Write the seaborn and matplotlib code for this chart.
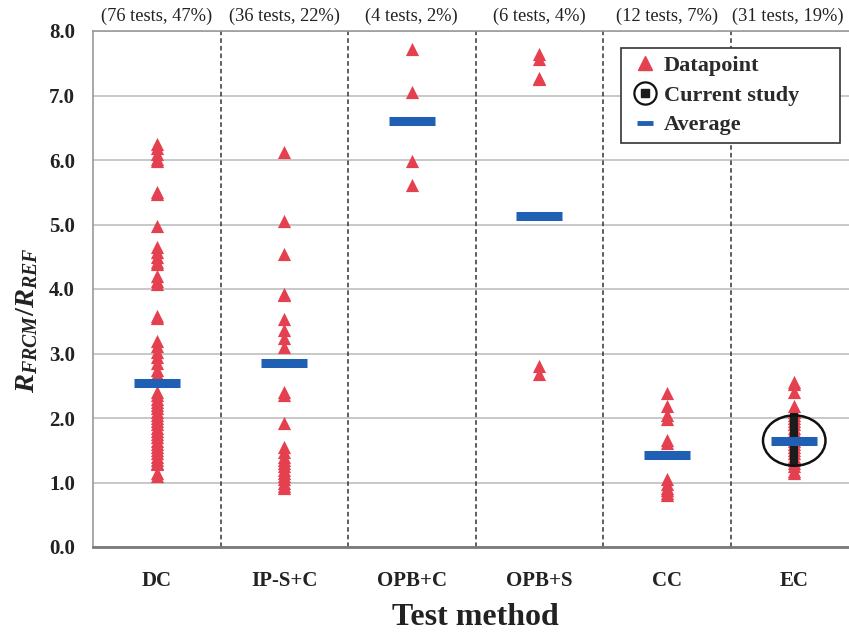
import numpy as np
import pandas as pd
import matplotlib
matplotlib.use("Agg")
import matplotlib.pyplot as plt
import seaborn as sns
from matplotlib.patches import Ellipse
from matplotlib.lines import Line2D
from matplotlib.legend_handler import HandlerTuple

# ---------------- data ----------------
methods = ["DC", "IP-S+C", "OPB+C", "OPB+S", "CC", "EC"]
test_labels = ["(76 tests, 47%)", "(36 tests, 22%)", "(4 tests, 2%)",
               "(6 tests, 4%)", "(12 tests, 7%)", "(31 tests, 19%)"]

dc_values = [6.25, 6.18, 6.10, 6.02, 5.98, 5.50, 5.47, 4.98,
             4.65, 4.58, 4.50, 4.42, 4.38, 4.20, 4.12, 4.08,
             3.58, 3.55, 3.20, 3.12, 3.02, 2.95, 2.85, 2.75, 2.68, 2.60,
             2.40, 2.35, 2.30, 2.25, 2.20, 2.15, 2.10, 2.05, 2.00, 1.95,
             1.90, 1.85, 1.80, 1.75, 1.70, 1.65, 1.60, 1.55, 1.50, 1.45,
             1.40, 1.35, 1.30, 1.28, 1.15, 1.10]
ips_values = [6.12, 5.06, 4.55, 3.93, 3.90, 3.54, 3.36, 3.24, 3.10,
              2.40, 2.35, 1.92, 1.55, 1.48, 1.40, 1.35, 1.30, 1.25, 1.20,
              1.15, 1.10, 1.05, 1.00, 0.95, 0.91]
opbc_values = [7.72, 7.05, 5.98, 5.62]
opbs_values = [7.64, 7.56, 7.27, 7.25, 2.80, 2.68]
cc_values = [2.38, 2.18, 2.05, 1.98, 1.66, 1.62, 1.05, 0.98, 0.92, 0.88, 0.84, 0.80]
ec_values = [2.56, 2.52, 2.40, 2.18, 2.10, 2.05, 2.00, 1.95, 1.90, 1.85,
             1.80, 1.75, 1.70, 1.65, 1.60, 1.55, 1.50, 1.45, 1.40, 1.35,
             1.30, 1.25, 1.18, 1.15]
current_study = [2.02, 1.94, 1.86, 1.78, 1.72, 1.55, 1.47, 1.40, 1.33]

averages = [2.54, 2.86, 6.61, 5.13, 1.43, 1.65]

# ---------------- tables ----------------
groups = [dc_values, ips_values, opbc_values, opbs_values, cc_values, ec_values]
points_df = pd.DataFrame({
    "method": [m for m, vals in zip(methods, groups) for _ in vals],
    "ratio": [v for vals in groups for v in vals],
})
avg_df = pd.DataFrame({"method": methods, "ratio": averages})
cur_df = pd.DataFrame({"method": ["EC"] * len(current_study), "ratio": current_study})

# ---------------- style ----------------
sns.set_theme(style="white")
plt.rcParams["font.family"] = ["Liberation Serif", "DejaVu Serif"]
plt.rcParams["mathtext.fontset"] = "custom"
plt.rcParams["mathtext.it"] = "Liberation Serif:italic:bold"
plt.rcParams["mathtext.rm"] = "Liberation Serif:bold"
plt.rcParams["mathtext.bf"] = "Liberation Serif:bold"

RED = "#E5404F"
BLUE = "#1F5FB4"
TXT = "#222222"

W, H = 849, 633
fig = plt.figure(figsize=(W / 100, H / 100), dpi=100)
ax = fig.add_axes([93 / W, 1 - 547 / H, (858 - 93) / W, (547 - 31) / H])

ax.set_ylim(0, 8)
ax.set_yticks(np.arange(0, 8.01, 1.0))
ax.yaxis.grid(True, color="#c4c4c4", linewidth=1.3, zorder=0)
ax.set_axisbelow(True)

# separators between methods
for i in range(len(methods) - 1):
    ax.axvline(i + 0.5, color="#333333", linestyle=(0, (3, 2)), linewidth=1.1,
               zorder=1)

sns.stripplot(data=points_df, x="method", y="ratio", order=methods, jitter=False,
              marker="^", color=RED, size=9.5, linewidth=0, ax=ax, zorder=3)
sns.stripplot(data=cur_df, x="method", y="ratio", order=methods, jitter=False,
              marker="s", color="#1c1c1c", size=5.5, linewidth=0, ax=ax, zorder=4)
sns.stripplot(data=avg_df, x="method", y="ratio", order=methods, jitter=False,
              marker="_", color=BLUE, size=33, linewidth=6.5, ax=ax, zorder=5)

ec_idx = methods.index("EC")
ax.add_patch(Ellipse((ec_idx, averages[ec_idx]), width=0.49, height=0.78,
                     fill=False, edgecolor="#111111", linewidth=1.8, zorder=6))

ax.set_xlim(-0.5, len(methods) - 0.5)

for side in ["left", "top", "right"]:
    ax.spines[side].set_color("#9a9a9a")
    ax.spines[side].set_linewidth(1.2)
ax.spines["bottom"].set_color("#7a7a7a")
ax.spines["bottom"].set_linewidth(2.0)

ax.set_yticklabels([f"{v:.1f}" for v in np.arange(0, 8.01, 1.0)])
ax.tick_params(axis="y", length=0, pad=13, labelsize=15, labelcolor=TXT)
ax.tick_params(axis="x", length=0, pad=17, labelsize=15, labelcolor=TXT)
for lab in ax.get_xticklabels() + ax.get_yticklabels():
    lab.set_fontweight("bold")

ax.set_xlabel("Test method", fontsize=23, fontweight="bold", color=TXT, labelpad=9)
ax.set_ylabel(r"$R_{FRCM}/R_{REF}$", fontsize=20.5, color=TXT)
ax.yaxis.set_label_coords((40 - 93) / 765, (547 - 320) / 516)

# counts above each method
for i, lab in enumerate(test_labels):
    shift = -6 if i == len(test_labels) - 1 else 0
    ax.annotate(lab, xy=(i, 1.012), xycoords=ax.get_xaxis_transform(),
                xytext=(shift, 0), textcoords="offset pixels",
                ha="center", va="bottom", fontsize=13.3, color=TXT)

# legend
h_point = Line2D([], [], marker="^", color=RED, linestyle="none", markersize=9.5)
h_circle = Line2D([], [], marker="o", markerfacecolor="none",
                  markeredgecolor="#111111", markeredgewidth=1.6,
                  linestyle="none", markersize=16)
h_square = Line2D([], [], marker="s", color="#1c1c1c", linestyle="none", markersize=6)
h_avg = Line2D([], [], marker="_", color=BLUE, linestyle="none",
               markersize=11, markeredgewidth=3.5)
leg = ax.legend([h_point, (h_circle, h_square), h_avg],
                ["Datapoint", "Current study      ", "Average"],
                handler_map={tuple: HandlerTuple(ndivide=1, pad=0)},
                loc="upper right", bbox_to_anchor=(840 / W, 1 - 48 / H),
                bbox_transform=fig.transFigure, frameon=True, fancybox=False,
                edgecolor="#333333", framealpha=1, handlelength=1.5,
                handletextpad=0.1, labelspacing=0.42, borderpad=0.32,
                borderaxespad=0,
                prop={"family": "Liberation Serif", "weight": "bold", "size": 16})
leg.get_frame().set_linewidth(1.2)
for t in leg.get_texts():
    t.set_color("#2a2a2a")

fig.savefig("out.png", dpi=100, facecolor="white")
